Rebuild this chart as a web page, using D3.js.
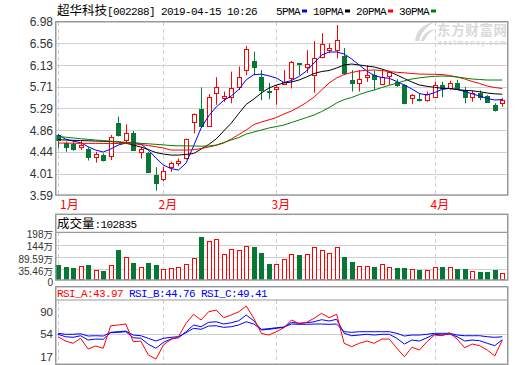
<!DOCTYPE html>
<html><head><meta charset="utf-8">
<script src="https://cdn.jsdelivr.net/npm/d3@7/dist/d3.min.js"></script>
<style>body{margin:0;background:#fff}svg{display:block}</style>
</head><body>
<svg id="c" width="520" height="365"></svg>
<script>
// ---------------- data ----------------
const stockName = "超华科技";
const stockInfo = "[002288] 2019-04-15 10:26";
const maNames = ["5PMA","10PMA","20PMA","30PMA"];
const maColors = ["#0000ff","#000000","#ff0000","#008000"];
const dates = [
 "2019-01-14","2019-01-15","2019-01-16","2019-01-17","2019-01-18","2019-01-21","2019-01-22","2019-01-23","2019-01-24","2019-01-25","2019-01-28","2019-01-29","2019-01-30","2019-01-31",
 "2019-02-01","2019-02-11","2019-02-12","2019-02-13","2019-02-14","2019-02-15","2019-02-18","2019-02-19","2019-02-20","2019-02-21","2019-02-22","2019-02-25","2019-02-26","2019-02-27","2019-02-28",
 "2019-03-01","2019-03-04","2019-03-05","2019-03-06","2019-03-07","2019-03-08","2019-03-11","2019-03-12","2019-03-13","2019-03-14","2019-03-15","2019-03-18","2019-03-19","2019-03-20","2019-03-21","2019-03-22","2019-03-25","2019-03-26","2019-03-27","2019-03-28","2019-03-29",
 "2019-04-01","2019-04-02","2019-04-03","2019-04-04","2019-04-08","2019-04-09","2019-04-10","2019-04-11","2019-04-12","2019-04-15"];
const open = [4.77,4.61,4.59,4.53,4.49,4.33,4.38,4.36,5.00,4.67,4.81,4.44,4.41,3.99,
 3.91,4.14,4.23,4.31,5.03,5.28,4.95,5.59,5.50,5.51,5.71,6.05,6.22,5.90,5.63,
 5.66,5.77,5.88,6.17,6.09,5.94,6.29,6.43,6.43,6.32,5.85,5.78,5.91,5.94,5.77,5.93,5.81,5.75,5.50,5.47,5.45,
 5.52,5.75,5.68,5.79,5.65,5.52,5.60,5.53,5.36,5.39];
const high = [4.79,4.64,4.64,4.66,4.53,4.44,4.41,4.77,5.13,4.98,4.85,4.54,4.44,4.14,
 4.15,4.25,4.31,4.70,5.19,5.70,5.57,5.90,5.62,6.01,6.11,6.51,6.40,6.04,5.79,
 5.75,6.04,6.22,6.18,6.43,6.61,6.76,6.56,6.92,6.47,6.04,6.04,6.13,6.03,6.04,6.03,5.86,5.76,5.57,5.59,5.62,
 5.81,5.81,5.83,5.85,5.71,5.64,5.64,5.55,5.39,5.49];
const low = [4.51,4.44,4.46,4.48,4.27,4.23,4.25,4.28,4.74,4.61,4.46,4.31,4.03,3.68,
 3.86,4.05,4.16,4.29,4.80,4.94,4.93,5.36,5.42,5.39,5.65,5.94,5.94,5.45,5.47,
 5.36,5.75,5.68,5.94,5.98,5.60,6.27,6.37,6.27,5.94,5.62,5.62,5.81,5.65,5.75,5.75,5.71,5.37,5.38,5.42,5.42,
 5.49,5.51,5.65,5.65,5.39,5.42,5.45,5.40,5.23,5.32];
const close = [4.67,4.54,4.50,4.57,4.33,4.39,4.29,4.74,4.77,4.80,4.48,4.50,4.05,3.84,
 4.07,4.23,4.27,4.69,5.19,4.95,5.52,5.70,5.53,5.68,5.90,6.45,6.09,5.65,5.61,
 5.71,5.81,6.19,6.15,6.16,6.27,6.55,6.47,6.63,5.98,5.79,5.86,5.94,5.87,5.91,6.00,5.75,5.39,5.55,5.46,5.57,
 5.75,5.68,5.78,5.68,5.52,5.59,5.51,5.42,5.26,5.45];
const ma5 = [4.769,4.69,4.65,4.62,4.54,4.475,4.436,4.495,4.573,4.612,4.626,4.593,4.475,4.319,
 4.182,4.113,4.084,4.22,4.553,4.906,5.141,5.317,5.444,5.532,5.659,5.85,5.95,5.96,5.927,
 5.884,5.796,5.835,5.914,6.021,6.178,6.334,6.393,6.393,6.354,6.256,6.139,6.021,5.933,5.894,5.878,5.816,5.747,5.669,5.581,5.551,
 5.6,5.659,5.683,5.659,5.62,5.575,5.532,5.483,5.454,5.464];
const ma10 = [4.681,4.671,4.665,4.661,4.657,4.651,4.647,4.642,4.632,4.612,4.573,4.534,4.485,4.426,
 4.397,4.377,4.377,4.39,4.407,4.494,4.583,4.69,4.847,5.0,5.19,5.37,5.473,5.591,5.688,
 5.747,5.786,5.806,5.845,5.904,5.972,6.011,6.031,6.08,6.139,6.158,6.139,6.119,6.1,6.06,6.011,5.943,5.874,5.806,5.747,5.722,
 5.702,5.683,5.679,5.659,5.643,5.634,5.616,5.591,5.575,5.567];
const ma20 = [4.612,4.612,4.608,4.606,4.606,4.606,4.604,4.604,4.602,4.602,4.596,4.583,4.563,4.540,
 4.514,4.475,4.475,4.475,4.48,4.505,4.534,4.567,4.612,4.69,4.779,4.867,4.974,5.023,5.066,
 5.111,5.180,5.238,5.317,5.405,5.512,5.649,5.786,5.884,5.953,5.992,6.021,6.035,6.041,6.031,6.011,5.996,5.986,5.972,5.962,5.958,
 5.957,5.953,5.933,5.904,5.865,5.816,5.777,5.728,5.698,5.679];
const ma30 = [4.740,4.727,4.711,4.697,4.685,4.671,4.660,4.648,4.636,4.626,4.616,4.606,4.597,4.587,
 4.577,4.563,4.557,4.557,4.555,4.55,4.554,4.573,4.622,4.671,4.72,4.789,4.828,4.867,4.906,
 4.935,4.964,5.013,5.062,5.111,5.160,5.228,5.307,5.395,5.463,5.503,5.561,5.610,5.649,5.698,5.741,5.786,5.829,5.865,5.888,5.904,
 5.918,5.923,5.918,5.904,5.884,5.865,5.855,5.845,5.845,5.845];
const volume = [54.4,45.6,41.2,48.6,54.4,32.4,28.0,53.0,120.2,88.2,63.1,44.2,63.1,54.4,
 35.5,39.9,44.2,58.7,83.8,177.4,158.5,167.3,102.7,123.3,118.9,136.5,133.4,108.4,60.1,
 58.7,79.4,102.7,98.3,102.7,132.1,118.9,107.1,132.1,89.5,67.5,50.0,50.0,45.6,57.4,44.2,41.2,41.2,35.5,32.4,31.1,
 44.2,45.6,44.2,36.8,36.8,28.0,23.6,23.6,32.4,19.2];
const rsiA = [49.5,42.5,38.8,46.9,29.5,34.4,30.7,67.3,68.5,70.1,41.4,42.5,19.8,13.3,
 36,45.3,49.5,71.2,85.8,76.6,90,92.8,80.3,84.7,90,99.3,79.3,55,52.2,
 57.6,64.1,76.6,71.2,72.8,79.3,87.4,80.3,85.8,38.8,33.3,38.8,42.5,38.8,45.7,45.7,30.7,17,32.3,27.9,41.4,
 52.2,51.1,56,45.7,31.6,37.6,34.9,27.9,18.2,43.97];
const rsiB = [53.4,49.5,48.5,51.1,44.1,45.7,45.3,56,56.6,57.6,47.9,46.9,37.2,30.7,
 40.4,45.7,47.9,57.6,68.5,65.7,72.8,73.8,70.1,72.2,75.4,84.7,75.4,60.4,61.5,
 63.1,64.7,72.8,71.2,72.2,73.8,77.1,75,77.7,55,51.1,52.2,53.4,52.2,53.4,53.4,46.9,37.6,44.1,42.5,47.9,
 53.4,52.2,53.9,49.5,42.5,44.1,43,38.8,34.9,44.76];
const rsiC = [55,53.4,53.4,54.3,50.6,51.1,50.6,56.6,57.6,58.7,52.2,51.1,46.9,42.5,
 46.9,48.5,49.5,56,63.1,61.5,66.8,67.3,64.7,65.7,68.5,73.8,70.1,61.5,62.5,
 64.1,65.2,70.1,69.6,69.6,70.1,70.1,69.6,70.1,57.6,56.6,57.6,57.6,57.6,57.6,57.6,55,50.6,52.2,52.2,53.4,
 55,55,55,52.2,51.1,51.1,51.1,49.5,48.5,49.41];
const priceTicks = [6.98,6.56,6.13,5.71,5.29,4.86,4.44,4.01,3.59];
const volTicks = [198,144,89.59,35.46];
const volUnit = "万";
const volLabel = "成交量";
const volLast = "102835";
const rsiTicks = [90,54,17];
const rsiNames = ["RSI_A","RSI_B","RSI_C"];
const rsiColors = ["#ff0000","#0000ff","#0000ff"];
const watermark = "东方财富网";
const watermarkSub = "eastmoney.com";

// ---------------- layout ----------------
const L = 56, R = 508;
const mainTop = 22, mainBot = 195.3;
const volTop = 214.3, volHead = 232.3, volBot = 280;
const rsiTop = 286.7, rsiHead = 300, rsiBot = 364.3;
const UP = "#ff0000", DOWN = "#077736";
const MONO = "'Liberation Mono','DejaVu Sans Mono',monospace";
const CJK = "'Noto Sans CJK SC','Noto Sans',sans-serif";
const SANS = "'Liberation Sans',Arial,sans-serif";

const svg = d3.select("#c");
const x = d3.scalePoint().domain(dates).range([58, 502.3]);
const yP = d3.scaleLinear().domain([3.59, 6.98]).range([mainBot, mainTop]);
const yV = d3.scaleLinear().domain([35.46, 198]).range([269.3, volHead]);
const yR = d3.scaleLinear().domain([0, 100]).range([367.2, 305.6]);
const px = d => Math.round(x(d)) + 0.5;

// ---------- header ----------
const t = svg.append("text").attr("x", 57).attr("y", 15).attr("fill", "#000");
t.append("tspan").attr("font-family", CJK).attr("font-size", 12.5).text(stockName);
t.append("tspan").attr("font-family", MONO).attr("font-size", 11).attr("letter-spacing", -0.6).text(stockInfo);

let lx = 276;
maNames.forEach((n, i) => {
  svg.append("text").attr("x", lx).attr("y", 15).attr("font-family", MONO).attr("font-size", 11)
    .attr("letter-spacing", -0.6).attr("fill", "#000").text(n);
  lx += n.length * 6 + 2;
  svg.append("rect").attr("x", lx).attr("y", 9.5).attr("width", 5).attr("height", 3).attr("fill", maColors[i]);
  lx += 11;
});

// ---------- watermark ----------
const wm = svg.append("g").attr("fill", "#d9d9d9");
wm.append("text").attr("x", 437).attr("y", 34.5).attr("font-family", CJK).attr("font-weight", "bold")
  .attr("font-size", 13.5).attr("textLength", 70).text(watermark);
wm.append("text").attr("x", 438).attr("y", 45).attr("font-family", SANS).attr("font-weight", "bold")
  .attr("font-size", 7).attr("textLength", 68).text(watermarkSub);
wm.append("path").attr("d", "M415,41 C416,31 423,24 434,22 C426,27 421,33 419,41 Z");
wm.append("path").attr("d", "M421,41 C423,34 428,30 435,29 C430,32 426,36 424,41 Z");

// ---------- month separators ----------
const monthIdx = dates.map((d, i) => i).filter(i => i === 0 || dates[i].slice(5, 7) !== dates[i - 1].slice(5, 7));
const dash = svg.append("g").attr("stroke", "#cfcfcf").attr("stroke-dasharray", "4,3").attr("stroke-width", 1);
monthIdx.forEach(i => {
  const xx = px(dates[i]);
  [[mainTop, mainBot], [volHead, volBot], [rsiHead, rsiBot]].forEach(([a, b]) =>
    dash.append("line").attr("x1", xx).attr("x2", xx).attr("y1", a).attr("y2", b));
  svg.append("text").attr("x", Math.max(60, xx - 5)).attr("y", 209).attr("fill", "#ff0000")
    .attr("font-family", CJK).attr("font-size", 12).text((+dates[i].slice(5, 7)) + "月");
});

// ---------- main price panel ----------
const grid = svg.append("g").attr("stroke", "#d0d0d0").attr("stroke-width", 1);
priceTicks.forEach(v => {
  const yy = Math.round(yP(v)) + 0.5;
  if (v !== priceTicks[0] && v !== priceTicks[priceTicks.length - 1])
    grid.append("line").attr("x1", L).attr("x2", R).attr("y1", yy).attr("y2", yy);
  svg.append("text").attr("x", 53).attr("y", yP(v)).attr("dy", "0.36em").attr("text-anchor", "end")
    .attr("font-family", SANS).attr("font-size", 12).attr("fill", "#333").text(v.toFixed(2));
});

const cg = svg.append("g");
dates.forEach((d, i) => {
  const cx = px(d), up = close[i] >= open[i], col = up ? UP : DOWN;
  cg.append("line").attr("x1", cx).attr("x2", cx).attr("y1", yP(high[i])).attr("y2", yP(low[i]))
    .attr("stroke", col).attr("stroke-width", 1);
  const top = Math.round(yP(Math.max(open[i], close[i])));
  const bot = Math.max(top + 1, Math.round(yP(Math.min(open[i], close[i]))));
  if (up) {
    cg.append("rect").attr("x", cx - 2).attr("y", top + 0.5).attr("width", 4).attr("height", Math.max(1, bot - top))
      .attr("fill", "#fff").attr("stroke", col).attr("stroke-width", 1);
  } else {
    cg.append("rect").attr("x", cx - 2.5).attr("y", top).attr("width", 5).attr("height", Math.max(1, bot - top + 1))
      .attr("fill", col);
  }
});

[ma5, ma10, ma20, ma30].forEach((arr, k) => {
  svg.append("path").datum(arr).attr("fill", "none").attr("stroke", maColors[k]).attr("stroke-width", 1)
    .attr("d", d3.line().x((v, i) => x(dates[i])).y(v => yP(v)));
});

svg.append("rect").attr("x", L - 0.25).attr("y", mainTop - 0.25).attr("width", R - L).attr("height", mainBot - mainTop)
  .attr("fill", "none").attr("stroke", "#999").attr("stroke-width", 1.5);

// ---------- volume panel ----------
volTicks.forEach(v => {
  const yy = Math.round(yV(v)) + 0.5;
  if (v !== volTicks[0]) grid.append("line").attr("x1", L).attr("x2", R).attr("y1", yy).attr("y2", yy);
  const tt = svg.append("text").attr("x", 53).attr("y", yV(v) - (v === volTicks[volTicks.length - 1] ? 0.5 : 0))
    .attr("dy", "0.36em").attr("text-anchor", "end").attr("fill", "#333");
  tt.append("tspan").attr("font-family", SANS).attr("font-size", 10).text(v);
  tt.append("tspan").attr("font-family", SANS + ",'Noto Sans CJK SC'").attr("font-size", 9.5).text(volUnit);
});
svg.append("text").attr("x", 53).attr("y", volBot + 2.5).attr("dy", "0.3em").attr("text-anchor", "end").attr("fill", "#333")
  .attr("font-family", SANS).attr("font-size", 10).text("0");

const vg = svg.append("g");
dates.forEach((d, i) => {
  const cx = px(d), up = close[i] >= open[i];
  const top = Math.round(yV(volume[i]));
  if (up) {
    vg.append("rect").attr("x", cx - 2).attr("y", top + 0.5).attr("width", 4).attr("height", volBot - top - 1)
      .attr("fill", "#fff").attr("stroke", UP).attr("stroke-width", 1);
  } else {
    vg.append("rect").attr("x", cx - 2.5).attr("y", top).attr("width", 5).attr("height", volBot - top).attr("fill", DOWN);
  }
});
const vh = svg.append("text").attr("x", 57).attr("y", 228).attr("fill", "#000");
vh.append("tspan").attr("font-family", CJK).attr("font-size", 12.5).text(volLabel);
vh.append("tspan").attr("font-family", MONO).attr("font-size", 11).attr("letter-spacing", -0.6).text(":" + volLast);
svg.append("rect").attr("x", L - 0.25).attr("y", volTop).attr("width", R - L).attr("height", volBot - volTop)
  .attr("fill", "none").attr("stroke", "#999").attr("stroke-width", 1.5);
svg.append("line").attr("x1", L).attr("x2", R).attr("y1", volHead).attr("y2", volHead).attr("stroke", "#999").attr("stroke-width", 1.2);

// ---------- RSI panel ----------
rsiTicks.forEach(v => {
  if (v === 54) {
    const yy = Math.round(yR(v)) + 0.5;
    grid.append("line").attr("x1", L).attr("x2", R).attr("y1", yy).attr("y2", yy);
  }
  svg.append("text").attr("x", 53).attr("y", yR(v)).attr("dy", "0.36em").attr("text-anchor", "end")
    .attr("font-family", SANS).attr("font-size", 11.5).attr("fill", "#333").text(v);
});
const rsiData = [rsiA, rsiB, rsiC];
[rsiC, rsiB, rsiA].forEach((arr, k) => {
  const col = rsiColors[2 - k];
  svg.append("path").datum(arr).attr("fill", "none").attr("stroke", col).attr("stroke-width", 1)
    .attr("d", d3.line().x((v, i) => x(dates[i])).y(v => yR(v)));
});
rsiNames.forEach((n, k) => {
  const arr = rsiData[k];
  svg.append("text").attr("x", 57 + k * 72).attr("y", 297).attr("font-family", MONO).attr("font-size", 11)
    .attr("letter-spacing", -0.6).attr("fill", rsiColors[k]).text(n + ":" + arr[arr.length - 1].toFixed(2));
});
svg.append("rect").attr("x", L - 0.25).attr("y", rsiTop).attr("width", R - L).attr("height", rsiBot - rsiTop)
  .attr("fill", "none").attr("stroke", "#999").attr("stroke-width", 1.5);
svg.append("line").attr("x1", L).attr("x2", R).attr("y1", rsiHead).attr("y2", rsiHead).attr("stroke", "#999").attr("stroke-width", 1.2);
</script>
</body></html>
